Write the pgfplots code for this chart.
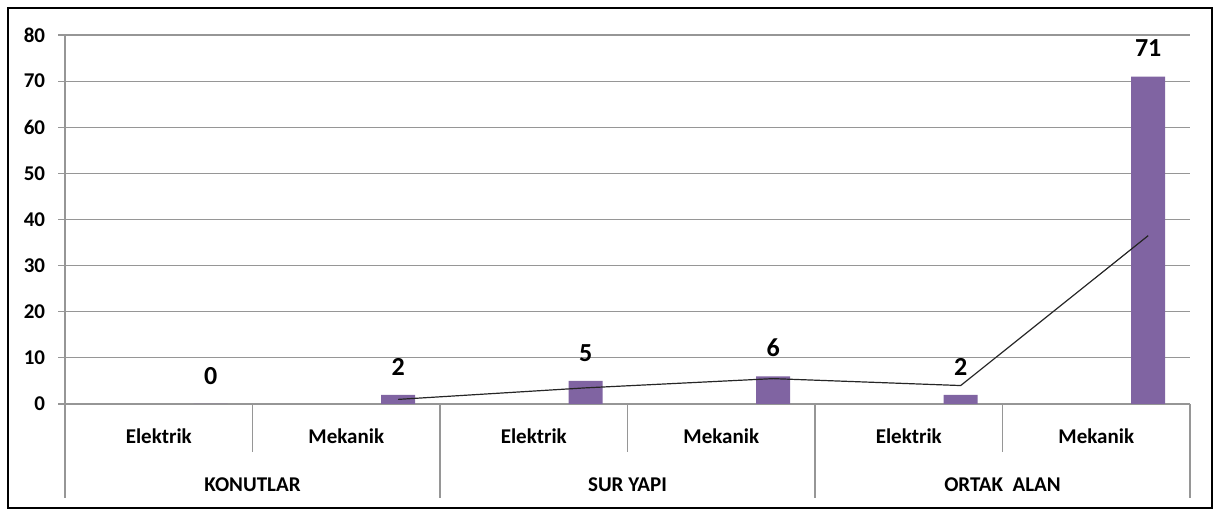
\documentclass[border=0pt]{standalone}
\usepackage{fontspec}
\setmainfont{Carlito}
\usepackage{pgfplots}
\pgfplotsset{compat=1.18}
\definecolor{barc}{RGB}{128,100,162}
\definecolor{gridc}{RGB}{150,150,150}
\begin{document}
\begin{tikzpicture}
\path (-32.5pt,-54.5pt) rectangle (577pt,202pt);
\draw[line width=1.3pt] (-28.5pt,-52pt) rectangle (573.5pt,198pt);
\begin{axis}[
  at={(0pt,0pt)}, anchor=south west,
  scale only axis, width=562.5pt, height=184.5pt,
  xmin=-0.5, xmax=5.5, ymin=0, ymax=80,
  axis x line*=bottom, axis y line*=left,
  axis line style={gridc, line width=0.6pt},
  ytick={0,10,...,80},
  ymajorgrids, grid style={gridc, line width=0.6pt},
  tick align=outside, major tick length=3.4pt,
  y tick style={gridc, line width=0.6pt},
  x tick style={draw=none},
  xtick={0,...,5},
  xticklabels={Elektrik,Mekanik,Elektrik,Mekanik,Elektrik,Mekanik},
  xticklabel style={anchor=base, yshift=-16.5pt},
  yticklabel style={xshift=-3pt},
  tick label style={font=\fontsize{10.5}{12}\selectfont\bfseries},
  /pgf/number format/assume math mode=true,
  clip=false,
]
\addplot[ybar, bar width=17pt, bar shift=0pt, fill=barc, draw=none,
  nodes near coords,
  nodes near coords style={font=\fontsize{13}{15}\selectfont\bfseries, anchor=base, inner sep=0pt, yshift=9.8pt, text=black}]
  coordinates {(0.277,0) (1.277,2) (2.277,5) (3.277,6) (4.277,2) (5.277,71)};
\addplot[black!85, line width=0.6pt, mark=none]
  coordinates {(1.277,1) (2.277,3.5) (3.277,5.5) (4.277,4) (5.277,36.5)};
\draw[gridc, line width=0.6pt] (axis cs:-0.5,0) -- ++(0pt,-47pt);
\draw[gridc, line width=0.6pt] (axis cs:0.5,0) -- ++(0pt,-23.8pt);
\draw[gridc, line width=0.6pt] (axis cs:1.5,0) -- ++(0pt,-47pt);
\draw[gridc, line width=0.6pt] (axis cs:2.5,0) -- ++(0pt,-23.8pt);
\draw[gridc, line width=0.6pt] (axis cs:3.5,0) -- ++(0pt,-47pt);
\draw[gridc, line width=0.6pt] (axis cs:4.5,0) -- ++(0pt,-23.8pt);
\draw[gridc, line width=0.6pt] (axis cs:5.5,0) -- ++(0pt,-47pt);
\node[anchor=base, font=\fontsize{10.5}{12}\selectfont\bfseries, inner sep=0pt] at ([yshift=-43.5pt]axis cs:0.5,0) {KONUTLAR};
\node[anchor=base, font=\fontsize{10.5}{12}\selectfont\bfseries, inner sep=0pt] at ([yshift=-43.5pt]axis cs:2.5,0) {SUR YAPI};
\node[anchor=base, font=\fontsize{10.5}{12}\selectfont\bfseries, inner sep=0pt] at ([yshift=-43.5pt]axis cs:4.5,0) {ORTAK\ \ ALAN};
\end{axis}
\end{tikzpicture}
\end{document}
